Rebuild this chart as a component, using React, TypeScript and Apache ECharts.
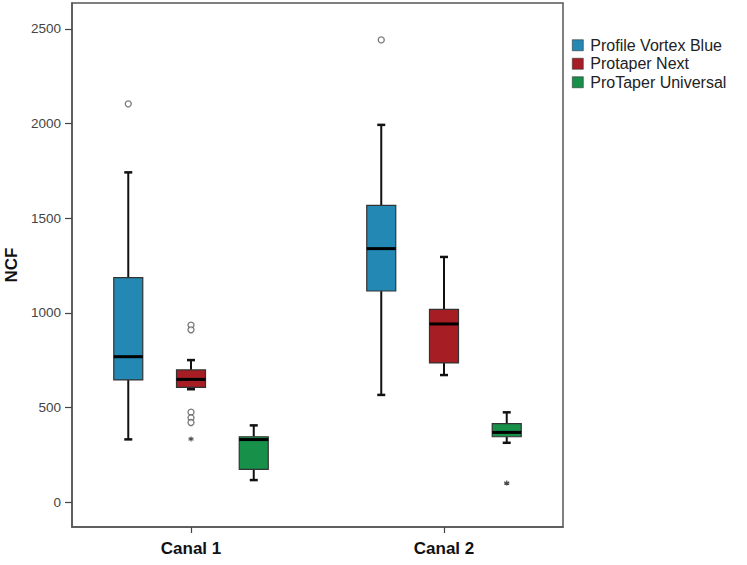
import React, { useEffect, useRef } from "react";
import * as echarts from "echarts";

const categories = ["Canal 1", "Canal 2"];
const seriesNames = ["Profile Vortex Blue", "Protaper Next", "ProTaper Universal"];
const seriesColors = ["#2389b4", "#a61d24", "#17904a"];
// [min, Q1, median, Q3, max] per canal
const pvbStats = [
  [331, 645, 768, 1186, 1742],
  [566, 1115, 1339, 1568, 1993],
];
const ptnStats = [
  [596, 606, 648, 698, 750],
  [671, 735, 941, 1018, 1295],
];
const ptuStats = [
  [116, 173, 330, 345, 405],
  [313, 345, 368, 414, 474],
];
// outliers: [canalIndex, value]
const pvbOutliers = [
  [0, 2104],
  [1, 2442],
];
const ptnOutliers = [
  [0, 935],
  [0, 910],
  [0, 475],
  [0, 445],
  [0, 420],
];
const ptnExtremes = [[0, 333]];
const ptuExtremes = [[1, 100]];
const yTicks = [0, 500, 1000, 1500, 2000, 2500];

const allStats = [pvbStats, ptnStats, ptuStats];
const offsets = [-0.248, 0, 0.248];
const FONT = "'Liberation Sans', Arial, Helvetica, sans-serif";

function App() {
  const ref = useRef<HTMLDivElement>(null);
  useEffect(() => {
    if (!ref.current) return;
    const chart = echarts.init(ref.current, null, { renderer: "svg" });

    const renderBox = (color: string) => (params: any, api: any) => {
      const x = api.value(0);
      const pMin = api.coord([x, api.value(1)]);
      const pQ1 = api.coord([x, api.value(2)]);
      const pMed = api.coord([x, api.value(3)]);
      const pQ3 = api.coord([x, api.value(4)]);
      const pMax = api.coord([x, api.value(5)]);
      const cx = pMed[0];
      const hw = 14.5;
      const cw = 4;
      const lineStyle = { stroke: "#111", lineWidth: 2 };
      return {
        type: "group",
        children: [
          { type: "line", shape: { x1: cx, y1: pMax[1], x2: cx, y2: pQ3[1] }, style: lineStyle },
          { type: "line", shape: { x1: cx, y1: pQ1[1], x2: cx, y2: pMin[1] }, style: lineStyle },
          { type: "line", shape: { x1: cx - cw, y1: pMax[1], x2: cx + cw, y2: pMax[1] }, style: { stroke: "#111", lineWidth: 2.5 } },
          { type: "line", shape: { x1: cx - cw, y1: pMin[1], x2: cx + cw, y2: pMin[1] }, style: { stroke: "#111", lineWidth: 2.5 } },
          {
            type: "rect",
            shape: { x: cx - hw, y: pQ3[1], width: hw * 2, height: pQ1[1] - pQ3[1] },
            style: { fill: color, stroke: "#333", lineWidth: 1.2 },
          },
          { type: "line", shape: { x1: cx - hw, y1: pMed[1], x2: cx + hw, y2: pMed[1] }, style: { stroke: "#000", lineWidth: 3 } },
        ],
      };
    };

    const boxSeries = allStats.map((stats, si) => ({
      type: "custom",
      name: seriesNames[si],
      itemStyle: { color: seriesColors[si] },
      renderItem: renderBox(seriesColors[si]),
      encode: { x: 0, y: [1, 2, 3, 4, 5] },
      data: stats.map((s, ci) => [ci + 1 + offsets[si], ...s]),
      z: 2,
    }));

    const toXY = (arr: number[][], si: number) => arr.map(([ci, v]) => [ci + 1 + offsets[si], v]);
    const circleStyle = { color: "#fff", borderColor: "#555", borderWidth: 1.3 };
    const starPath = "path://M5,0 L5,10 M0.7,2.5 L9.3,7.5 M9.3,2.5 L0.7,7.5";

    const option: any = {
      animation: false,
      textStyle: { fontFamily: FONT },
      grid: {
        left: 72,
        top: 3,
        width: 491,
        height: 524,
        outerBoundsMode: "none",
        containLabel: false,
        show: true,
        borderColor: "#555",
        borderWidth: 1.5,
        backgroundColor: "#fff",
      },
      legend: {
        orient: "vertical",
        left: 567,
        top: 31,
        itemWidth: 11,
        itemHeight: 11,
        itemGap: 0,
        icon: "rect",
        itemStyle: { borderColor: "#333", borderWidth: 0.6 },
        textStyle: { fontSize: 16, color: "#222", fontFamily: FONT, padding: [0, 0, 0, 2], lineHeight: 18.5 },
        data: seriesNames,
      },
      xAxis: {
        type: "value",
        min: 0.5296,
        max: 2.4704,
        splitLine: { show: false },
        axisLine: { show: true, onZero: false, lineStyle: { color: "#555", width: 1.5 } },
        axisTick: { show: true, customValues: [1, 2], length: 6, lineStyle: { color: "#444", width: 1.2 } },
        axisLabel: {
          customValues: [1, 2],
          formatter: (v: number) => categories[Math.round(v) - 1] ?? "",
          fontSize: 17,
          fontWeight: "bold",
          color: "#111",
          margin: 13,
          fontFamily: FONT,
        },
      },
      yAxis: {
        type: "value",
        min: -132,
        max: 2637,
        name: "NCF",
        nameLocation: "middle",
        nameGap: 48,
        nameRotate: 90,
        nameTextStyle: { fontSize: 17, fontWeight: "bold", color: "#111", fontFamily: FONT },
        splitLine: { show: false },
        axisLine: { show: true, onZero: false, lineStyle: { color: "#555", width: 1.5 } },
        axisTick: { show: true, customValues: yTicks, length: 7, lineStyle: { color: "#444", width: 1.2 } },
        axisLabel: {
          customValues: yTicks,
          formatter: (v: number) => String(v),
          fontSize: 13.5,
          color: "#444",
          margin: 11,
          fontFamily: FONT,
        },
      },
      series: [
        ...boxSeries,
        {
          type: "scatter",
          symbol: "circle",
          symbolSize: 6,
          itemStyle: circleStyle,
          data: [...toXY(pvbOutliers, 0), ...toXY(ptnOutliers, 1)],
          z: 3,
        },
        {
          type: "scatter",
          symbol: starPath,
          symbolSize: 5,
          itemStyle: { color: "#222", borderColor: "#222", borderWidth: 1.2 },
          data: [...toXY(ptnExtremes, 1), ...toXY(ptuExtremes, 2)],
          z: 3,
        },
      ],
    };
    chart.setOption(option);
    return () => chart.dispose();
  }, []);
  return (
    <div
      ref={ref}
      style={{ position: "absolute", left: 0, top: 0, width: 747, height: 565, background: "#fff" }}
    />
  );
}

export default App;
